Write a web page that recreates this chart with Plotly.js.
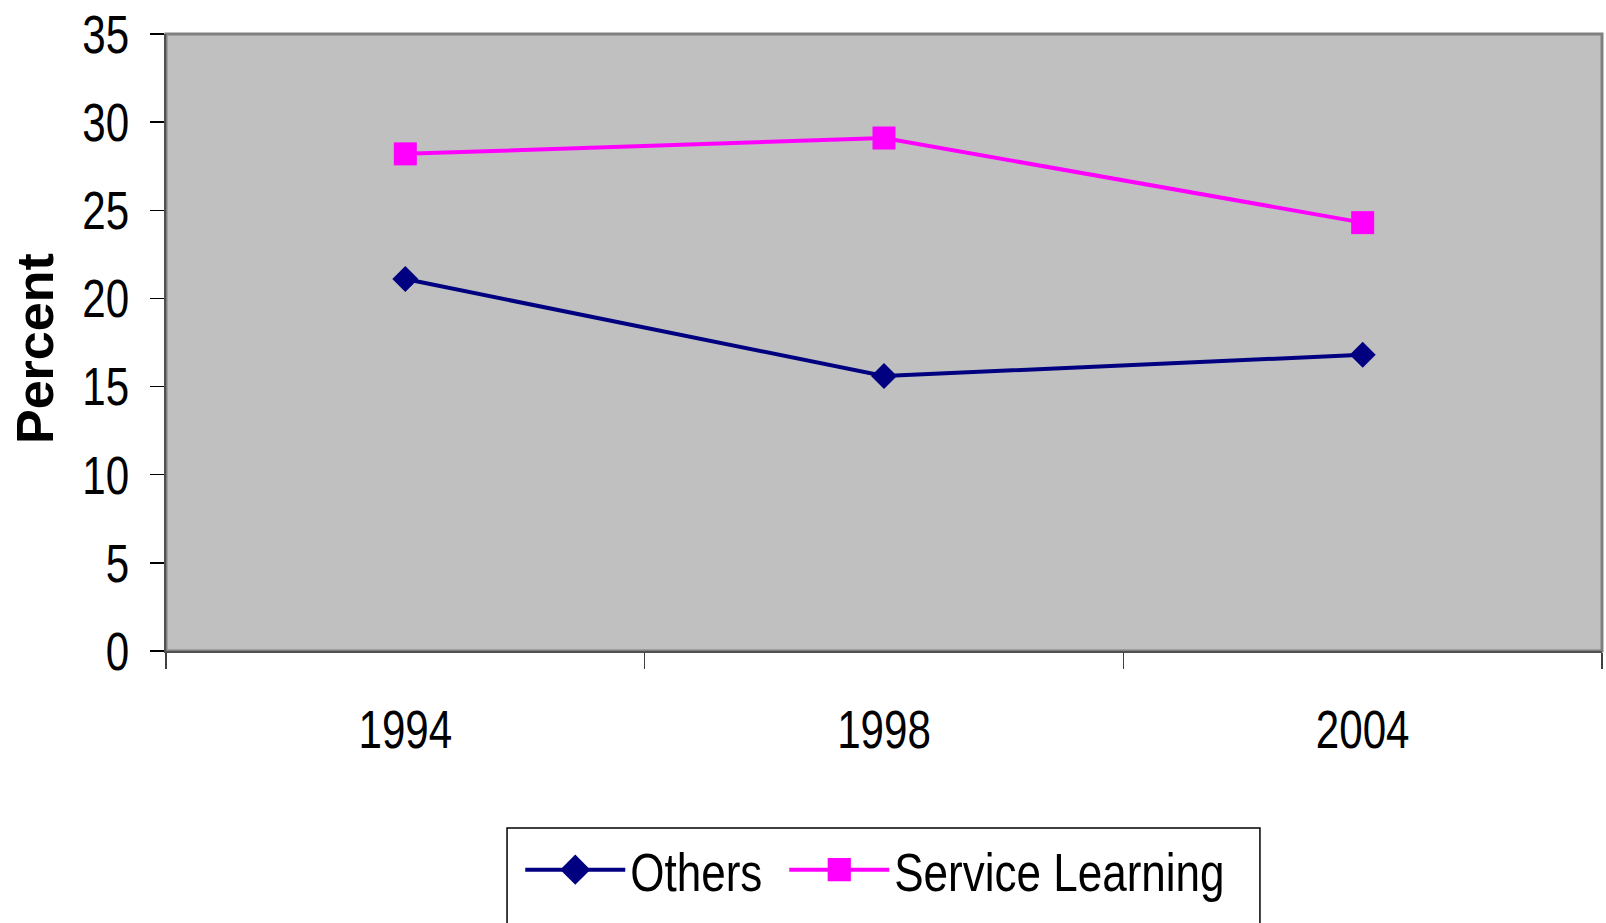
<!DOCTYPE html>
<html>
<head>
<meta charset="utf-8">
<script src="https://cdn.plot.ly/plotly-3.0.1.min.js"></script>
<style>
  html, body { margin: 0; padding: 0; background: #ffffff; }
  #chart { width: 1606px; height: 923px; }
</style>
</head>
<body>
<div id="chart"></div>
<script>
const years = ["1994", "1998", "2004"];
const others = [21.1, 15.6, 16.8];
const serviceLearning = [28.2, 29.1, 24.3];
const yTicks = [0, 5, 10, 15, 20, 25, 30, 35];

const sans = "'Liberation Sans', Arial, sans-serif";

const traces = [
  {
    x: years, y: others, name: "Others", type: "scatter", mode: "lines+markers",
    line: { color: "#000080", width: 4 },
    marker: { symbol: "diamond", size: 20, color: "#000080" },
    legendwidth: 149
  },
  {
    x: years, y: serviceLearning, name: "Service Learning", type: "scatter", mode: "lines+markers",
    line: { color: "#FF00FF", width: 4 },
    marker: { symbol: "square", size: 23, color: "#FF00FF" },
    legendwidth: 335
  }
];

const layout = {
  width: 1606, height: 923,
  margin: { l: 166, r: 4, t: 34, b: 272 },
  paper_bgcolor: "#ffffff",
  plot_bgcolor: "#C0C0C0",
  showlegend: true,
  legend: {
    orientation: "h", x: 0.2467, xanchor: "left", y: -0.355, yanchor: "middle",
    font: { family: sans, size: 54, color: "#000000" },
    bgcolor: "rgba(0,0,0,0)", borderwidth: 0, itemwidth: 100
  },
  xaxis: {
    type: "category", range: [-0.5, 2.5], tickson: "boundaries",
    ticks: "outside", ticklen: 16, tickwidth: 1.5, tickcolor: "#404040",
    showline: true, linecolor: "#505050", linewidth: 2,
    showgrid: false, zeroline: false, fixedrange: true,
    tickfont: { family: sans, size: 54, color: "#000000" },
    ticklabelstandoff: 30
  },
  yaxis: {
    range: [0, 35], tickvals: yTicks, ticktext: yTicks.map(String),
    ticks: "outside", ticklen: 14, tickwidth: 1.5, tickcolor: "#000000",
    showline: true, linecolor: "#505050", linewidth: 2,
    showgrid: false, zeroline: false, fixedrange: true,
    tickfont: { family: sans, size: 54, color: "#000000" },
    ticklabelstandoff: 10
  },
  annotations: [
    { text: "<b>Percent</b>", xref: "paper", yref: "paper", x: -0.0912, y: 0.4895,
      xanchor: "center", yanchor: "middle", textangle: -90, showarrow: false,
      font: { family: sans, size: 52, color: "#000000" } }
  ],
  shapes: [
    { type: "rect", xref: "paper", yref: "paper", x0: 0, x1: 1, y0: 0, y1: 1,
      line: { color: "#808080", width: 3 }, layer: "below" },
    { type: "rect", xref: "paper", yref: "paper", x0: 0.2375, x1: 0.7618, y0: -0.2869, y1: -0.46,
      line: { color: "#000000", width: 1.5 }, fillcolor: "rgba(0,0,0,0)" }
  ]
};

// Reference text is a condensed face; compress glyphs horizontally (text stays real text).
function condense(selector, factor) {
  document.querySelectorAll(selector).forEach(function (el) {
    const len = el.getComputedTextLength();
    if (len > 0) {
      el.setAttribute("textLength", (len * factor).toFixed(2));
      el.setAttribute("lengthAdjust", "spacingAndGlyphs");
    }
  });
}

Plotly.newPlot("chart", traces, layout, { displayModeBar: false, staticPlot: true }).then(function () {
  condense(".xtick text, .ytick text", 0.78);
  condense(".legendtext", 0.815);
  // legend symbols are size-capped by Plotly; enlarge them to match the reference
  document.querySelectorAll(".legendpoints path.scatterpts").forEach(function (el) {
    const t = el.getAttribute("transform") || "";
    el.setAttribute("transform", t + " scale(1.45)");
  });
});
</script>
</body>
</html>
